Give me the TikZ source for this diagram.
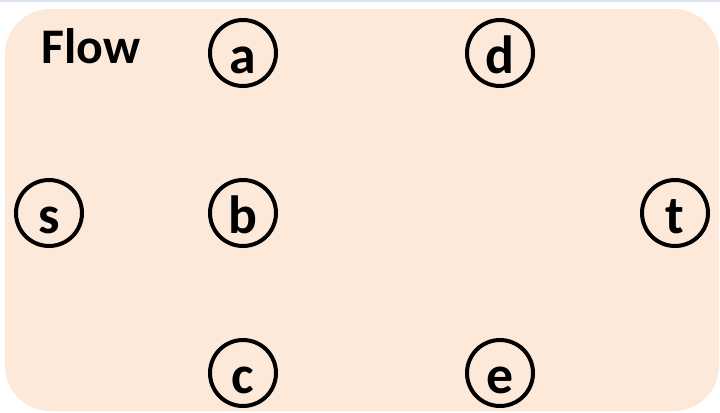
\documentclass[tikz,border=0pt]{standalone}
\usepackage{fontspec}
\setmainfont{Carlito}
\usepackage{xcolor}
\usepackage{tikz}
\usetikzlibrary{positioning}

\definecolor{peach}{HTML}{FDE9D9}
\definecolor{slideline}{HTML}{DCE5F4}

\begin{document}
\begin{tikzpicture}[
    x=1bp, y=-1bp,
    vertex/.style={
        circle,
        draw=black,
        line width=4bp,
        minimum size=66bp,
        inner sep=0pt,
        text height=40bp,
        text depth=0pt,
        font=\fontsize{54}{54}\selectfont\bfseries
    },
    title/.style={anchor=base west, inner sep=0pt, font=\fontsize{50}{50}\selectfont\bfseries}
]

\def\xs{49}
\def\xl{243}
\def\xr{500}
\def\xt{675}
\def\ytop{53}
\def\ymid{213}
\def\ybot{373}

\useasboundingbox (0,0) rectangle (720,412);

% Background
\fill[slideline] (0,0) rectangle (720,2);
\fill[peach, rounded corners=45bp] (5,9) rectangle (719,411);

\node[title] (flow) at (41,63) {Flow};

% Vertices
\node[vertex] (s) at (\xs, \ymid) {s};
\node[vertex] (a) at (\xl, \ytop) {a};
\node[vertex] (b) at (\xl, \ymid) {b};
\node[vertex] (c) at (\xl, \ybot) {c};
\node[vertex] (d) at (\xr, \ytop) {d};
\node[vertex] (e) at (\xr, \ybot) {e};
\node[vertex] (t) at (\xt, \ymid) {t};

\end{tikzpicture}
\end{document}
